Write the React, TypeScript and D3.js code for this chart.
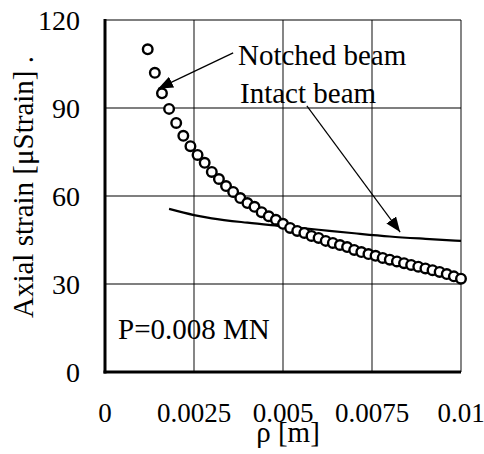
import React from 'react'
import * as d3 from 'd3'

const xTicks = [0, 0.0025, 0.005, 0.0075, 0.01]
const xTickLabels = ['0', '0.0025', '0.005', '0.0075', '0.01']
const yTicks = [0, 30, 60, 90, 120]

const notchedRho = [
  0.0012, 0.0014, 0.0016, 0.0018, 0.002, 0.0022, 0.0024, 0.0026, 0.0028, 0.003,
  0.0032, 0.0034, 0.0036, 0.0038, 0.004, 0.0042, 0.0044, 0.0046, 0.0048, 0.005,
  0.0052, 0.0054, 0.0056, 0.0058, 0.006, 0.0062, 0.0064, 0.0066, 0.0068, 0.007,
  0.0072, 0.0074, 0.0076, 0.0078, 0.008, 0.0082, 0.0084, 0.0086, 0.0088, 0.009,
  0.0092, 0.0094, 0.0096, 0.0098, 0.01,
]
const notchedStrain = [
  110, 102, 95, 89.7, 84.9, 80.5, 77, 74, 71.3, 68.2,
  65.8, 63.4, 61.4, 59.3, 57.6, 56.3, 54.5, 53.1, 51.9, 50.5,
  49.1, 48.1, 47.4, 46.4, 45.7, 44.7, 44, 43.3, 42.6, 41.6,
  40.9, 40.2, 39.6, 38.9, 38.3, 37.7, 37.1, 36.5, 35.9, 35.3,
  34.7, 34.1, 33.4, 32.6, 31.8,
]

const intactRho = [0.0018, 0.0025, 0.003, 0.004, 0.005, 0.006, 0.007, 0.008, 0.009, 0.01]
const intactStrain = [55.6, 53.5, 52.4, 50.9, 49.7, 48.5, 47.3, 46.2, 45.4, 44.7]

// annotation anchors in data units: [rho, strain]
const notchedArrow = [[0.0036, 108.8], [0.00149, 96.6]]
const intactArrow = [[0.00567, 90.7], [0.00829, 47.7]]

const W = 484
const H = 454
const margin = { left: 105, right: 23, top: 20, bottom: 82 }
const serif = "'Liberation Serif', 'DejaVu Serif', 'Times New Roman', serif"

export default function App() {
  const x = d3.scaleLinear()
    .domain([0, 0.01])
    .range([margin.left, W - margin.right])
  const y = d3.scaleLinear()
    .domain([0, 120])
    .range([H - margin.bottom, margin.top])

  const intact = intactRho.map((r, i) => [r, intactStrain[i]])
  const line = d3.line()
    .x((d) => x(d[0]))
    .y((d) => y(d[1]))
    .curve(d3.curveMonotoneX)

  const x0 = x(0), x1 = x(0.01), y0 = y(0), y1 = y(120)

  return (
    <svg width={W} height={H} style={{ position: 'absolute', left: 0, top: 0, background: '#fff' }}>
      <defs>
        <marker id="head" markerUnits="userSpaceOnUse" markerWidth="16" markerHeight="12"
          refX="15" refY="6" orient="auto">
          <path d="M0,0 L15,6 L0,12 z" fill="#000" />
        </marker>
      </defs>

      {xTicks.map((t) => (
        <line key={'gx' + t} x1={x(t)} x2={x(t)} y1={y1} y2={y0} stroke="#444" strokeWidth={1.3} />
      ))}
      {yTicks.map((t) => (
        <line key={'gy' + t} x1={x0} x2={x1} y1={y(t)} y2={y(t)} stroke="#000" strokeWidth={1.2} />
      ))}

      <path d={line(intact)} fill="none" stroke="#000" strokeWidth={2.2} />

      {notchedRho.map((r, i) => (
        <circle key={'n' + i} cx={x(r)} cy={y(notchedStrain[i])} r={4.8}
          fill="#fff" stroke="#000" strokeWidth={2.4} />
      ))}

      <line x1={x0} x2={x0} y1={y1 - 1} y2={y0 + 1.5} stroke="#000" strokeWidth={3} />
      <line x1={x0 - 1.5} x2={x1} y1={y0} y2={y0} stroke="#000" strokeWidth={3} />

      <line x1={x(notchedArrow[0][0])} y1={y(notchedArrow[0][1])}
        x2={x(notchedArrow[1][0])} y2={y(notchedArrow[1][1])}
        stroke="#000" strokeWidth={1.2} markerEnd="url(#head)" />
      <line x1={x(intactArrow[0][0])} y1={y(intactArrow[0][1])}
        x2={x(intactArrow[1][0])} y2={y(intactArrow[1][1])}
        stroke="#000" strokeWidth={1.2} markerEnd="url(#head)" />

      <g style={{ fontFamily: serif }} fill="#000">
        {yTicks.map((t) => (
          <text key={'ly' + t} x={80} y={y(t)} dy="0.35em" textAnchor="end" fontSize={28}>{t}</text>
        ))}
        {xTicks.map((t, i) => (
          <text key={'lx' + t} x={x(t)} y={422} textAnchor="middle" fontSize={27}>{xTickLabels[i]}</text>
        ))}
        <text x={(x0 + x1) / 2 + 5} y={442} textAnchor="middle" fontSize={29}>ρ [m]</text>
        <text transform="translate(33,187) rotate(-90)" textAnchor="middle" fontSize={29}>
          Axial strain [μStrain] .
        </text>
        <text x={238} y={65} fontSize={29}>Notched beam</text>
        <text x={240} y={103} fontSize={29}>Intact beam</text>
        <text x={118} y={339} fontSize={29}>P=0.008 MN</text>
      </g>
    </svg>
  )
}
